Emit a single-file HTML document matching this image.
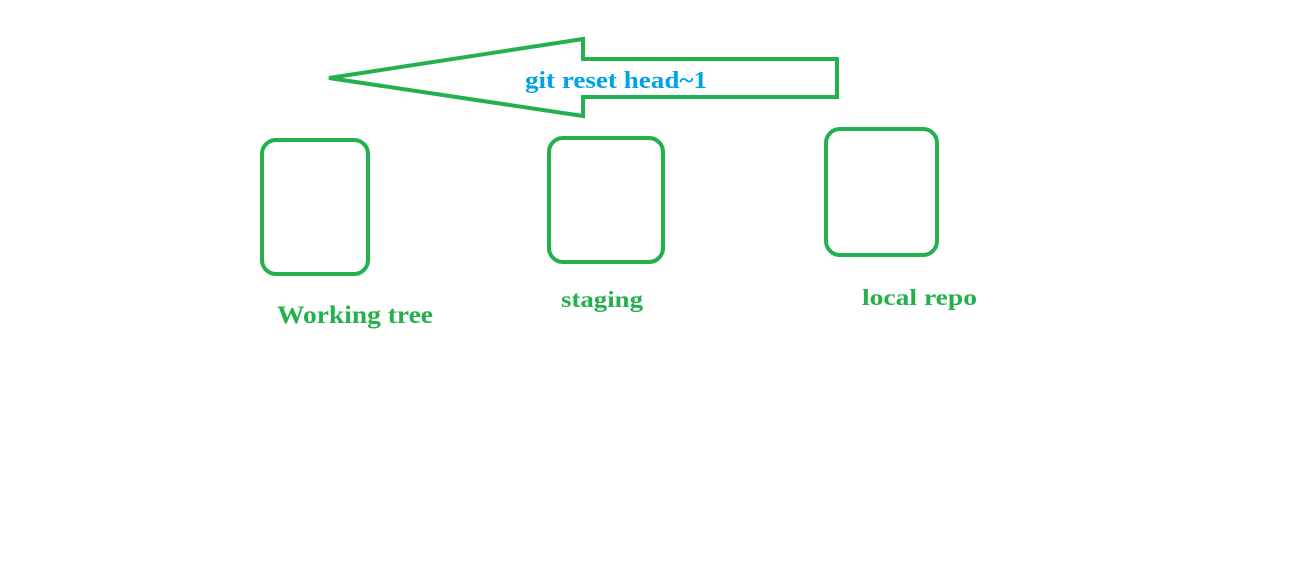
<!DOCTYPE html>
<html><head><style>
html,body{margin:0;padding:0;background:#fff;}
svg{display:block}
text{font-family:"Liberation Serif",serif;font-weight:bold;}
</style></head><body>
<svg width="1296" height="568" viewBox="0 0 1296 568" xmlns="http://www.w3.org/2000/svg">
<polygon points="329,78 583,39 583,59 837,59 837,97 583,97 583,116" fill="none" stroke="#22b14c" stroke-width="4" stroke-linejoin="miter"/>
<text x="525" y="88" font-size="24" fill="#00a2e8" textLength="182" lengthAdjust="spacingAndGlyphs">git reset head~1</text>
<rect x="262" y="140" width="106" height="134" rx="14" fill="none" stroke="#22b14c" stroke-width="4"/>
<rect x="549" y="138" width="114" height="124" rx="14" fill="none" stroke="#22b14c" stroke-width="4"/>
<rect x="826" y="129" width="111" height="126" rx="14" fill="none" stroke="#22b14c" stroke-width="4"/>
<text x="277" y="323" font-size="25" fill="#22b14c" textLength="156" lengthAdjust="spacingAndGlyphs">Working tree</text>
<text x="561" y="307" font-size="23" fill="#22b14c" textLength="82" lengthAdjust="spacingAndGlyphs">staging</text>
<text x="862" y="305" font-size="23" fill="#22b14c" textLength="115" lengthAdjust="spacingAndGlyphs">local repo</text>
</svg>
</body></html>
